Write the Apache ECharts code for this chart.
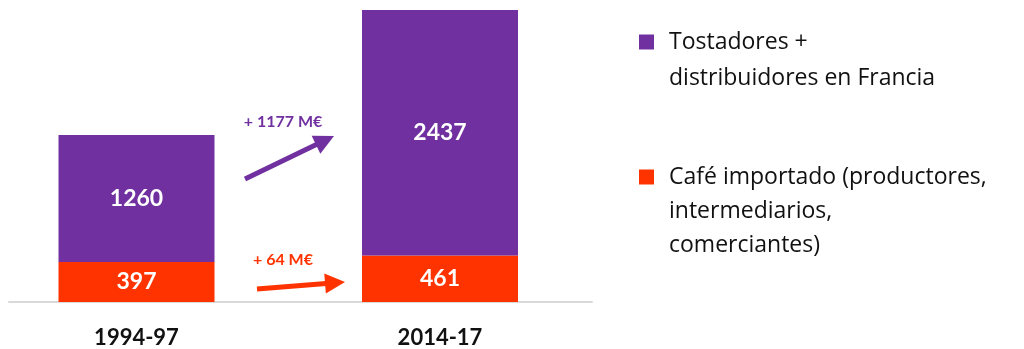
<!DOCTYPE html>
<html><head><meta charset="utf-8">
<script src="https://cdn.jsdelivr.net/npm/echarts@6/dist/echarts.min.js"></script>
<style>html,body{margin:0;padding:0;background:#fff}#c{width:1024px;height:349px}</style>
</head><body><div id="c"></div>
<script>
const categories = ['1994-97', '2014-17'];
const importedValues = [397, 461];
const roastersValues = [1260, 2437];
const seriesNames = ['Tostadores +\ndistribuidores en Francia', 'Café importado (productores,\nintermediarios,\ncomerciantes)'];
const deltaLabels = ['+ 1177 M€', '+ 64 M€'];

const PURPLE = '#7030A0', RED = '#FF3300';
const FONT = 'Lato';
const LFONT = 'Open Sans';

function arrow(x1, y1, x2, y2, color, w, hl, hw) {
  const dx = x2 - x1, dy = y2 - y1, L = Math.hypot(dx, dy);
  const ux = dx / L, uy = dy / L, nx = -uy, ny = ux;
  const bx = x2 - ux * hl, by = y2 - uy * hl;
  return [
    { type: 'line', shape: { x1, y1, x2: bx + ux, y2: by + uy }, style: { stroke: color, lineWidth: w } },
    { type: 'polygon', shape: { points: [[x2, y2], [bx + nx * hw, by + ny * hw], [bx - nx * hw, by - ny * hw]] }, style: { fill: color } }
  ];
}

const chart = echarts.init(document.getElementById('c'));
const barLabel = { show: true, position: 'inside', color: '#fff', fontFamily: FONT, fontWeight: 'bold', fontSize: 23 };
const legendBase = { orient: 'vertical', left: 639, padding: 0, itemWidth: 15, itemHeight: 15, icon: 'rect' };
chart.setOption({
  animation: false,
  grid: [
    { left: 136.5, right: 584, top: 10, bottom: 47 },
    { left: 9, right: 432, top: 10, bottom: 47 }
  ],
  xAxis: [
    { type: 'category', data: categories, gridIndex: 0, boundaryGap: false, axisLine: { show: false }, axisTick: { show: false },
      axisLabel: { margin: 25, color: '#111', fontFamily: FONT, fontWeight: 'bold', fontSize: 22 } },
    { type: 'category', data: categories, gridIndex: 1, axisLine: { show: true, lineStyle: { color: '#d9d9d9', width: 2 } },
      axisTick: { show: false }, axisLabel: { show: false } }
  ],
  yAxis: [
    { type: 'value', min: 0, max: 2898, gridIndex: 0, show: false },
    { type: 'value', min: 0, max: 2898, gridIndex: 1, show: false }
  ],
  legend: [
    Object.assign({}, legendBase, { data: [seriesNames[0]], top: -12,
      formatter: n => '\n' + n,
      textStyle: { fontFamily: LFONT, fontSize: 23, color: '#111', lineHeight: 36, padding: [0, 0, 0, 10] } }),
    Object.assign({}, legendBase, { data: [seriesNames[1]], top: 92,
      formatter: n => '\n\n' + n,
      textStyle: { fontFamily: LFONT, fontSize: 23, color: '#111', lineHeight: 34, padding: [0, 0, 0, 10] } })
  ],
  series: [
    { name: seriesNames[1], type: 'bar', stack: 't', clip: false, data: importedValues, barWidth: 156, itemStyle: { color: RED }, label: barLabel },
    { name: seriesNames[0], type: 'bar', stack: 't', clip: false, data: roastersValues, barWidth: 156, itemStyle: { color: PURPLE }, label: barLabel }
  ],
  graphic: [
    ...arrow(245, 179, 334, 136, PURPLE, 5, 20, 10),
    ...arrow(257, 289, 345, 282, RED, 5, 20, 10),
    { type: 'text', style: { text: deltaLabels[0], x: 283, y: 122, align: 'center', verticalAlign: 'middle', fill: PURPLE, font: 'bold 16px Lato' } },
    { type: 'text', style: { text: deltaLabels[1], x: 283, y: 260, align: 'center', verticalAlign: 'middle', fill: RED, font: 'bold 16px Lato' } }
  ]
});
</script></body></html>
